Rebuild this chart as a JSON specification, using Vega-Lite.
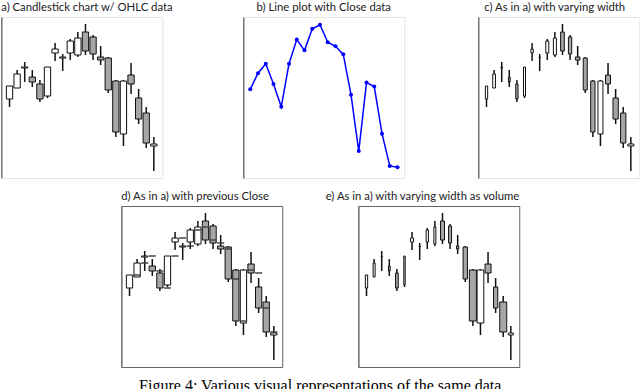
{
  "$schema": "https://vega.github.io/schema/vega-lite/v6.json",
  "padding": {"left": 0, "top": 1, "right": 0, "bottom": 0},
  "background": "white",
  "datasets": {
    "ohlc": [
      {"idx": 1, "open": 118, "high": 131, "low": 110, "close": 131, "w": 3.3, "volume": 330},
      {"idx": 2, "open": 129, "high": 147, "low": 129, "close": 143, "w": 3.7, "volume": 300},
      {"idx": 3, "open": 149, "high": 155, "low": 135, "close": 150, "w": 2.5, "volume": 200},
      {"idx": 4, "open": 140, "high": 147, "low": 130, "close": 135, "w": 2.7, "volume": 270},
      {"idx": 5, "open": 133, "high": 137, "low": 115, "close": 118, "w": 3.3, "volume": 370},
      {"idx": 6, "open": 121, "high": 150, "low": 119, "close": 150, "w": 3, "volume": 230},
      {"idx": 7, "open": 164, "high": 174, "low": 156, "close": 168, "w": 3.3, "volume": 400},
      {"idx": 8, "open": 159, "high": 163, "low": 146, "close": 160, "w": 2, "volume": 200},
      {"idx": 9, "open": 164, "high": 178, "low": 157, "close": 176, "w": 4, "volume": 330},
      {"idx": 10, "open": 162, "high": 185, "low": 160, "close": 179, "w": 4, "volume": 300},
      {"idx": 11, "open": 185, "high": 193, "low": 162, "close": 166, "w": 4.7, "volume": 500},
      {"idx": 12, "open": 180, "high": 182, "low": 157, "close": 163, "w": 4.3, "volume": 400},
      {"idx": 13, "open": 160, "high": 171, "low": 152, "close": 157, "w": 5.7, "volume": 330},
      {"idx": 14, "open": 159, "high": 160, "low": 124, "close": 127, "w": 5, "volume": 530},
      {"idx": 15, "open": 136, "high": 137, "low": 80, "close": 85, "w": 5.3, "volume": 800},
      {"idx": 16, "open": 83, "high": 137, "low": 71, "close": 136, "w": 6, "volume": 770},
      {"idx": 17, "open": 142, "high": 154, "low": 123, "close": 133, "w": 6, "volume": 700},
      {"idx": 18, "open": 119, "high": 128, "low": 93, "close": 98, "w": 6.3, "volume": 530},
      {"idx": 19, "open": 104, "high": 110, "low": 69, "close": 74, "w": 6.3, "volume": 800},
      {"idx": 20, "open": 71, "high": 80, "low": 46, "close": 73, "w": 7, "volume": 600}
    ]
  },
  "config": {
    "title": {"font": "Lato", "fontSize": 11.3, "fontWeight": "normal", "color": "#222", "offset": 4},
    "axisY": {"domain": true, "domainColor": "#777", "domainWidth": 1.5, "ticks": false, "labels": false, "grid": false, "title": null},
    "view": {"stroke": null}
  },
  "title": {"text": "Figure 4: Various visual representations of the same data", "orient": "bottom", "anchor": "middle", "font": "Liberation Serif", "fontSize": 16, "fontWeight": "normal", "color": "#000", "offset": 10},
  "spacing": 11,
  "center": true,
  "resolve": {"scale": {"x": "independent", "y": "independent", "size": "independent"}},
  "vconcat": [
    {
      "spacing": 68,
      "resolve": {"scale": {"x": "independent", "y": "independent", "size": "independent"}},
      "hconcat": [
        {
          "width": 161, "height": 161,
          "title": {"text": "a) Candlestick chart w/ OHLC data", "anchor": "start"},
          "view": {"stroke": "#e4e4e4"},
          "data": {"name": "ohlc"},
          "encoding": {"x": {"field": "idx", "type": "quantitative", "scale": {"domain": [0.57, 20.45], "nice": false, "zero": false}, "axis": null}},
          "layer": [
            {"mark": {"type": "rule", "color": "#111", "strokeWidth": 1.5},
             "encoding": {"y": {"field": "low", "type": "quantitative", "scale": {"domain": [39, 200], "nice": false, "zero": false}}, "y2": {"field": "high"}}},
            {"mark": {"type": "bar", "stroke": "#111", "strokeWidth": 1, "size": 6.3},
             "encoding": {"y": {"field": "open", "type": "quantitative"}, "y2": {"field": "close"},
                          "fill": {"condition": {"test": "datum.close >= datum.open", "value": "white"}, "value": "#a6a6a6"}}}
          ]
        },
        {
          "spacing": 74,
          "bounds": "flush",
          "resolve": {"scale": {"x": "independent", "y": "independent", "size": "independent"}},
          "hconcat": [
            {
              "width": 161, "height": 161,
              "title": {"text": "b) Line plot with Close data", "anchor": "middle"},
              "view": {"stroke": "#e4e4e4"},
              "data": {"name": "ohlc"},
              "mark": {"type": "line", "color": "#0000ff", "strokeWidth": 1.5, "point": {"filled": true, "size": 16, "color": "#0000ff"}},
              "encoding": {
                "x": {"field": "idx", "type": "quantitative", "scale": {"domain": [0.097, 20.87], "nice": false, "zero": false}, "axis": null},
                "y": {"field": "close", "type": "quantitative", "scale": {"domain": [65, 184.8], "nice": false, "zero": false}}
              }
            },
            {
              "width": 161, "height": 161,
              "title": {"text": "c) As in a) with varying width", "anchor": "middle", "dx": -4},
              "view": {"stroke": "#e4e4e4"},
              "data": {"name": "ohlc"},
              "encoding": {"x": {"field": "idx", "type": "quantitative", "scale": {"domain": [0.57, 20.45], "nice": false, "zero": false}, "axis": null}},
              "layer": [
                {"mark": {"type": "rule", "color": "#111", "strokeWidth": 1.5},
                 "encoding": {"y": {"field": "low", "type": "quantitative", "scale": {"domain": [39, 200], "nice": false, "zero": false}}, "y2": {"field": "high"}}},
                {"mark": {"type": "bar", "stroke": "#111", "strokeWidth": 1},
                 "encoding": {"y": {"field": "open", "type": "quantitative"}, "y2": {"field": "close"},
                              "size": {"field": "w", "type": "quantitative", "scale": {"type": "linear", "domain": [1, 8], "range": [0, 7], "zero": false}, "legend": null},
                              "fill": {"condition": {"test": "datum.close >= datum.open", "value": "white"}, "value": "#a6a6a6"}}}
              ]
            }
          ]
        }
      ]
    },
    {
      "spacing": 76,
      "bounds": "flush",
      "resolve": {"scale": {"x": "independent", "y": "independent", "size": "independent"}},
      "hconcat": [
        {
          "width": 161, "height": 161,
          "title": {"text": "d) As in a) with previous Close", "anchor": "start"},
          "view": {"stroke": "#666"},
          "data": {"name": "ohlc"},
          "transform": [{"window": [{"op": "lag", "field": "close", "as": "prevClose"}], "sort": [{"field": "idx"}]}],
          "encoding": {"x": {"field": "idx", "type": "quantitative", "scale": {"domain": [0.57, 20.45], "nice": false, "zero": false}, "axis": null}},
          "layer": [
            {"mark": {"type": "rule", "color": "#111", "strokeWidth": 1.5},
             "encoding": {"y": {"field": "low", "type": "quantitative", "scale": {"domain": [39, 200], "nice": false, "zero": false}}, "y2": {"field": "high"}}},
            {"mark": {"type": "bar", "stroke": "#111", "strokeWidth": 1, "size": 6.3},
             "encoding": {"y": {"field": "open", "type": "quantitative"}, "y2": {"field": "close"},
                          "fill": {"condition": {"test": "datum.close >= datum.open", "value": "white"}, "value": "#a6a6a6"}}},
            {"transform": [{"filter": "datum.prevClose != null"}],
             "mark": {"type": "bar", "stroke": "#444", "strokeWidth": 1, "fill": null, "size": 7},
             "encoding": {"y": {"field": "prevClose", "type": "quantitative"}, "y2": {"field": "prevClose"}}}
          ]
        },
        {
          "width": 161, "height": 161,
          "title": {"text": "e) As in a) with varying width as volume", "anchor": "end"},
          "view": {"stroke": "#666"},
          "data": {"name": "ohlc"},
          "encoding": {"x": {"field": "idx", "type": "quantitative", "scale": {"domain": [0.57, 20.45], "nice": false, "zero": false}, "axis": null}},
          "layer": [
            {"mark": {"type": "rule", "color": "#111", "strokeWidth": 1.5},
             "encoding": {"y": {"field": "low", "type": "quantitative", "scale": {"domain": [39, 200], "nice": false, "zero": false}}, "y2": {"field": "high"}}},
            {"mark": {"type": "bar", "stroke": "#111", "strokeWidth": 1},
             "encoding": {"y": {"field": "open", "type": "quantitative"}, "y2": {"field": "close"},
                          "size": {"field": "volume", "type": "quantitative", "scale": {"type": "linear", "domain": [100, 800], "range": [0, 7], "zero": false}, "legend": null},
                          "fill": {"condition": {"test": "datum.close >= datum.open", "value": "white"}, "value": "#a6a6a6"}}}
          ]
        }
      ]
    }
  ]
}
